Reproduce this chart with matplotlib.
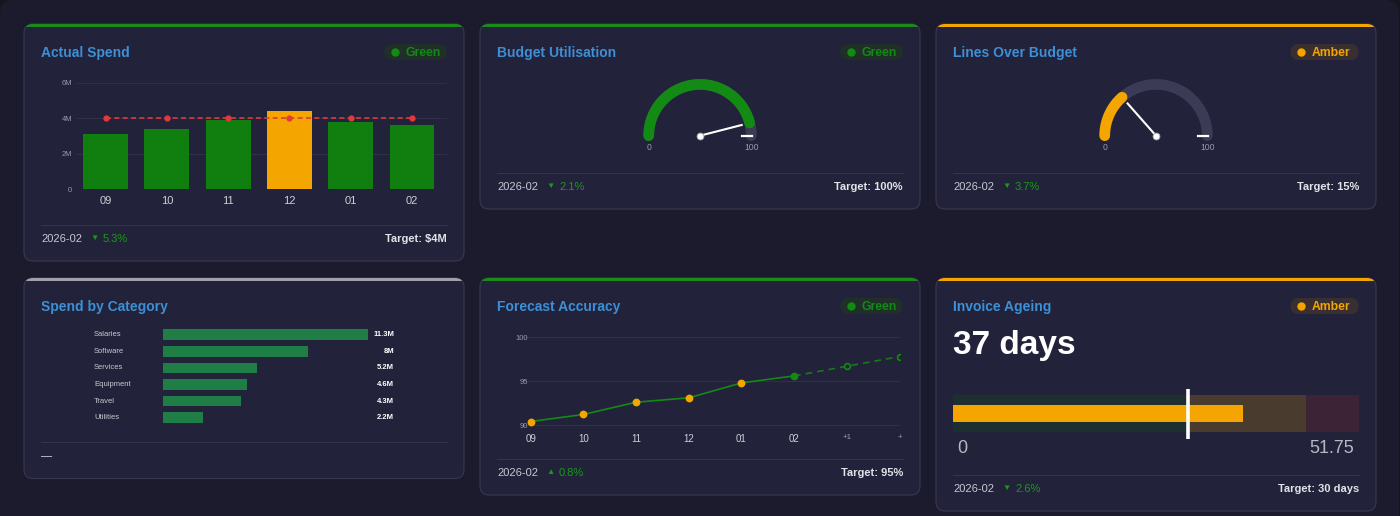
import numpy as np
import matplotlib
matplotlib.use('Agg')
import matplotlib.pyplot as plt
from matplotlib.patches import FancyBboxPatch, Rectangle
from matplotlib.transforms import blended_transform_factory

plt.rcParams['font.family'] = ['Liberation Sans', 'DejaVu Sans']

W, H = 1400, 516

# ---- data ----
MONTHS = ['09', '10', '11', '12', '01', '02']
ACTUAL_SPEND = [3.1, 3.4, 3.9, 4.4, 3.8, 3.6]      # $M
SPEND_TARGET = [4.0, 4.0, 4.0, 4.0, 4.0, 4.0]
SPEND_TICKS = [0, 2, 4, 6]
SPEND_TICK_LABELS = ['0', '2M', '4M', '6M']

BUDGET_UTIL = 92          # gauge value, %
LINES_OVER = 27           # gauge value, %
GAUGE_MARK = 100

CATEGORIES = ['Salaries', 'Software', 'Services', 'Equipment', 'Travel', 'Utilities']
CAT_SPEND = [11.3, 8.0, 5.2, 4.6, 4.3, 2.2]
CAT_LABELS = ['11.3M', '8M', '5.2M', '4.6M', '4.3M', '2.2M']

FC_LABELS = ['09', '10', '11', '12', '01', '02', '+1', '+']
FC_ACTUAL = [90.4, 91.2, 92.6, 93.1, 94.8, 95.6]
FC_PROJ = [95.6, 96.7, 97.8]
FC_TICKS = [90, 95, 100]

INVOICE_DAYS = 37
INVOICE_TARGET = 30
INVOICE_BANDS = [30, 45, 51.75]

TITLES = ['Actual Spend', 'Budget Utilisation', 'Lines Over Budget',
          'Spend by Category', 'Forecast Accuracy', 'Invoice Ageing']
STATUS = ['Green', 'Green', 'Amber', None, 'Green', 'Amber']
PERIOD = ['2026-02', '2026-02', '2026-02', None, '2026-02', '2026-02']
DELTA_DIR = ['down', 'down', 'down', None, 'up', 'down']
DELTA_PCT = ['5.3%', '2.1%', '3.7%', None, '0.8%', '2.6%']
TARGETS = ['Target: $4M', 'Target: 100%', 'Target: 15%', None,
           'Target: 95%', 'Target: 30 days']

# ---- style ----
PAGE = '#1b1b2d'
OUTER = '#15151f'
CARD = '#22223a'
EDGE = '#383852'
SEP = '#33334d'
GREEN = '#138a13'
AMBER = '#f5a500'
BLUE = '#3d8fd6'
GRID = '#2f2f4a'
TRACK = '#3b3b55'
TOP_COLORS = {'Green': '#1a8c1a', 'Amber': AMBER, None: '#a0a0a8'}
BADGE_BG = {'Green': '#1f3029', 'Amber': '#3a2f30'}
BADGE_FG = {'Green': GREEN, 'Amber': AMBER}

# card boxes in pixels: left, top, right, bottom
BOXES = [(24, 24, 464, 261), (480, 24, 920, 209), (936, 24, 1376, 209),
         (24, 278, 464, 478.5), (480, 278, 920, 495), (936, 278, 1376, 511)]

fig = plt.figure(figsize=(W / 100, H / 100), dpi=100, facecolor=OUTER)
bg = fig.add_axes([0, 0, 1, 1])
bg.set_xlim(0, W)
bg.set_ylim(H, 0)
bg.axis('off')
bg.add_patch(FancyBboxPatch((0, 0), W - 1, H + 20, boxstyle='round,pad=0,rounding_size=14',
                            fc=PAGE, ec='none'))


def axes_px(x0, y0, x1, y1):
    return fig.add_axes([x0 / W, 1 - y1 / H, (x1 - x0) / W, (y1 - y0) / H])


# ---- cards, titles, badges, footers ----
for i, (l, t, r, b) in enumerate(BOXES):
    w, h = r - l, b - t
    bg.add_patch(FancyBboxPatch((l, t), w, h, boxstyle='round,pad=0,rounding_size=9',
                                fc=CARD, ec=EDGE, lw=0.8))
    top = FancyBboxPatch((l, t), w, h, boxstyle='round,pad=0,rounding_size=9',
                         fc=TOP_COLORS[STATUS[i]], ec='none')
    bg.add_patch(top)
    top.set_clip_path(Rectangle((l - 2, t - 2), w + 4, 5.3, transform=bg.transData))

    bg.text(l + 17, t + 33.5, TITLES[i], color=BLUE, fontsize=10, fontweight='bold',
            va='baseline', ha='left')

    st = STATUS[i]
    if st:
        bw = 62 if st == 'Green' else 68
        bx = r - 17.5 - bw
        bg.add_patch(FancyBboxPatch((bx, t + 20), bw, 16, boxstyle='round,pad=0,rounding_size=8',
                                    fc=BADGE_BG[st], ec='none'))
        bg.plot(bx + 10, t + 28, 'o', color=BADGE_FG[st], ms=5)
        bg.text(bx + 21.5, t + 28.5, st, color=BADGE_FG[st], fontsize=8.7,
                fontweight='bold', va='center', ha='left')

    bg.plot([l + 17, r - 17], [b - 36.5, b - 36.5], color=SEP, lw=0.8)
    fy = b - 22.3
    if PERIOD[i]:
        bg.text(l + 17, fy, PERIOD[i], color='#c8c8d2', fontsize=8, va='center', ha='left')
        arrow = '▼' if DELTA_DIR[i] == 'down' else '▲'
        bg.text(l + 70, fy, arrow, color='#1a9a1a', fontsize=6, va='center', ha='center')
        bg.text(l + 79, fy, DELTA_PCT[i], color='#1a9a1a', fontsize=8, va='center', ha='left')
        bg.text(r - 17, fy, TARGETS[i], color='#e2e2e8', fontsize=8, fontweight='bold',
                va='center', ha='right')
    else:
        bg.text(l + 17, fy, '—', color='#dddde4', fontsize=8, va='center', ha='left')

# ---- Actual Spend bars ----
ax1 = axes_px(77, 82.7, 447, 189.3)
ax1.set_facecolor('none')
x = np.arange(len(MONTHS))
bar_cols = [AMBER if v > tg else '#117e10' for v, tg in zip(ACTUAL_SPEND, SPEND_TARGET)]
ax1.bar(x, ACTUAL_SPEND, width=0.73, color=bar_cols, zorder=2)
ax1.plot(x, SPEND_TARGET, color='#e03a3a', ls=(0, (3, 2)), lw=1.2, marker='o', ms=3.5, zorder=3)
ax1.set_xlim(-0.465, 5.57)
ax1.set_ylim(0, 6)
ax1.set_yticks(SPEND_TICKS)
ax1.set_yticklabels(SPEND_TICK_LABELS)
ax1.set_xticks(x)
ax1.set_xticklabels(MONTHS)
ax1.tick_params(axis='y', length=0, pad=3.6, labelsize=5.4, labelcolor='#9a9aaa')
ax1.tick_params(axis='x', length=0, pad=5, labelsize=8, labelcolor='#cfcfd8')
ax1.yaxis.grid(True, color=GRID, lw=0.8)
ax1.set_axisbelow(True)
for s in ax1.spines.values():
    s.set_visible(False)


# ---- gauges ----
def gauge(cx, cy, value):
    r = 51.3
    lw = 7.7
    t = np.radians(np.linspace(180, 0, 200))
    bg.plot(cx + r * np.cos(t), cy - r * np.sin(t), color=TRACK, lw=lw, solid_capstyle='round')
    ang = 180 - value / 100 * 180
    t = np.radians(np.linspace(180, ang, 200))
    col = GREEN if value >= 50 else AMBER
    bg.plot(cx + r * np.cos(t), cy - r * np.sin(t), color=col, lw=lw, solid_capstyle='round')
    ma = np.radians(180 - GAUGE_MARK / 100 * 180)
    bg.plot([cx + 41.5 * np.cos(ma), cx + 52 * np.cos(ma)],
            [cy - 41.5 * np.sin(ma), cy - 52 * np.sin(ma)], color='white', lw=1.6)
    na = np.radians(ang)
    bg.plot([cx, cx + 43 * np.cos(na)], [cy, cy - 43 * np.sin(na)], color='white', lw=1.5)
    bg.plot(cx, cy, 'o', color='white', ms=5, mec='#9a9aaa', mew=0.6)
    bg.text(cx - r, cy + 11.5, '0', color='#9a9aaa', fontsize=6.2, ha='center', va='center')
    bg.text(cx + r, cy + 11.5, '100', color='#9a9aaa', fontsize=6.2, ha='center', va='center')


gauge(700, 135.7, BUDGET_UTIL)
gauge(1156, 135.7, LINES_OVER)

# ---- Spend by Category ----
ax4 = axes_px(163.3, 326.4, 368, 426)
ax4.set_facecolor('none')
yy = np.arange(len(CATEGORIES))
ax4.barh(yy, CAT_SPEND, height=0.64, color='#1e7e46')
ax4.set_xlim(0, max(CAT_SPEND))
ax4.set_ylim(len(CATEGORIES) - 0.5, -0.5)
ax4.axis('off')
tr4 = blended_transform_factory(ax4.transAxes, ax4.transData)
for yi, name, lab in zip(yy, CATEGORIES, CAT_LABELS):
    ax4.text(-0.339, yi, name, transform=tr4, color='#c8c8d2', fontsize=5.5, ha='left', va='center')
    ax4.text(1.127, yi, lab, transform=tr4, color='white', fontsize=5.5, fontweight='bold',
             ha='right', va='center')

# ---- Forecast Accuracy ----
ax5 = axes_px(521.7, 337.3, 899.5, 428)
ax5.set_facecolor('none')
xa = np.arange(len(FC_ACTUAL))
xp = np.arange(len(FC_ACTUAL) - 1, len(FC_ACTUAL) - 1 + len(FC_PROJ))
ax5.plot(xp, FC_PROJ, color=GREEN, lw=1.2, ls=(0, (4, 3)), alpha=0.85, zorder=2)
ax5.plot(xp[1:], FC_PROJ[1:], 'o', ms=4.2, mfc=CARD, mec=GREEN, mew=1.2, zorder=3)
ax5.plot(xa, FC_ACTUAL, color=GREEN, lw=1.2, zorder=3)
ax5.plot(xa[:-1], FC_ACTUAL[:-1], 'o', ms=4.6, color=AMBER, zorder=4)
ax5.plot(xa[-1:], FC_ACTUAL[-1:], 'o', ms=4.6, color=GREEN, zorder=4)
ax5.set_xlim(-0.171, 7.0)
ax5.set_ylim(89.66, 100)
ax5.set_yticks(FC_TICKS)
ax5.set_yticklabels([str(v) for v in FC_TICKS])
ax5.set_xticks(np.arange(len(FC_LABELS)))
ax5.set_xticklabels(FC_LABELS)
ax5.tick_params(axis='y', length=0, pad=-4.3, labelsize=5.5, labelcolor='#9a9aaa')
ax5.tick_params(axis='x', length=0, pad=4, labelsize=7, labelcolor='#cfcfd8')
for lbl in ax5.get_xticklabels()[len(FC_ACTUAL):]:
    lbl.set_fontsize(5.8)
    lbl.set_color('#9a9aaa')
ax5.yaxis.grid(True, color=GRID, lw=0.8)
ax5.set_axisbelow(True)
for s in ax5.spines.values():
    s.set_visible(False)

# ---- Invoice Ageing ----
bg.text(953, 354, f'{INVOICE_DAYS} days', color='white', fontsize=24, fontweight='bold',
        ha='left', va='baseline')
ax6 = axes_px(953.3, 389, 1358.7, 438.5)
ax6.set_facecolor('none')
band_cols = ['#1e2f30', '#4a3b2f', '#3d2336']
lefts = [0] + INVOICE_BANDS[:-1]
for lft, rgt, c in zip(lefts, INVOICE_BANDS, band_cols):
    ax6.barh(0.505, rgt - lft, left=lft, height=0.736, color=c)
ax6.barh(0.507, INVOICE_DAYS, left=0, height=0.328, color=AMBER)
ax6.axvline(INVOICE_TARGET, ymin=0.004, ymax=0.994, color='white', lw=2.6)
ax6.set_xlim(0, INVOICE_BANDS[-1])
ax6.set_ylim(0, 1)
ax6.axis('off')
tr6 = blended_transform_factory(ax6.transData, ax6.transAxes)
ax6.text(0.45, -0.2, '0', transform=tr6, color='#b8b8c4', fontsize=13, ha='left', va='center')
ax6.text(INVOICE_BANDS[-1] - 0.55, -0.2, f'{INVOICE_BANDS[-1]:g}', transform=tr6,
         color='#b8b8c4', fontsize=13, ha='right', va='center')

fig.savefig('out.png', dpi=100, facecolor=OUTER)
